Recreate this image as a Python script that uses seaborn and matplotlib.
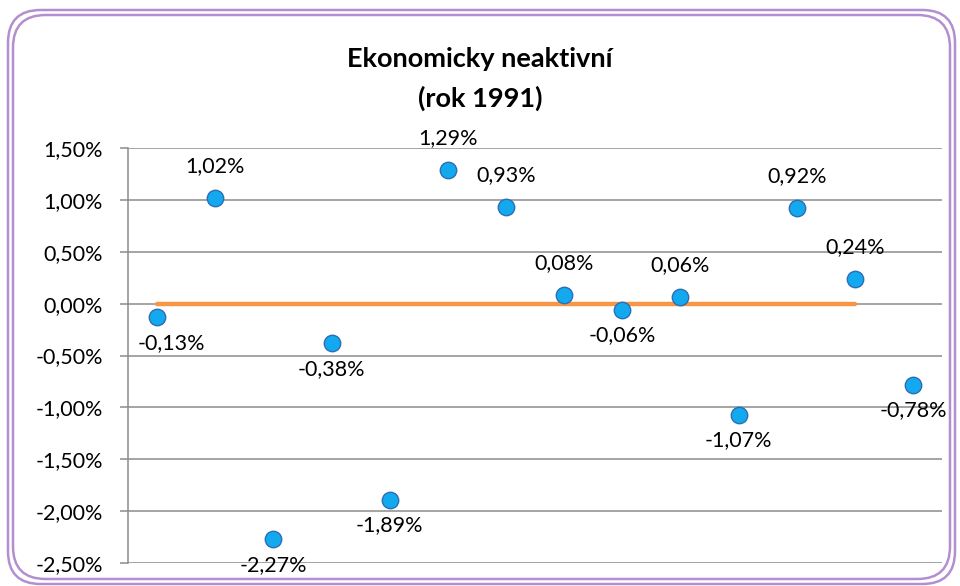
import matplotlib
matplotlib.use("Agg")
import matplotlib.pyplot as plt
import seaborn as sns
import pandas as pd
from matplotlib.patches import FancyBboxPatch
from matplotlib.ticker import FuncFormatter, MultipleLocator

categories = list(range(1, 15))
values = [-0.13, 1.02, -2.27, -0.38, -1.89, 1.29, 0.93, 0.08, -0.06, 0.06, -1.07, 0.92, 0.24, -0.78]
label_pos = ["below", "above", "below", "below", "below", "above", "above",
             "above", "below", "above", "below", "above", "above", "below"]
ref_x = [1, 13]
ref_y = [0.0, 0.0]
title = "Ekonomicky neaktivní\n(rok 1991)"

sns.set_theme(style="white")
plt.rcParams['font.family'] = ['Lato', 'DejaVu Sans']
plt.rcParams['text.color'] = 'black'
plt.rcParams['ytick.color'] = 'black'

fig = plt.figure(figsize=(9.6, 5.86), dpi=100)
W, H = 960, 586
ax = fig.add_axes([128 / W, 1 - 563 / H, (942 - 128) / W, (563 - 148) / H])

df = pd.DataFrame({"cat": categories, "val": values})
ref = pd.DataFrame({"x": ref_x, "y": ref_y})

ax.set_ylim(-2.5, 1.5)
ax.set_xlim(0.5, 14.5)
ax.yaxis.set_major_locator(MultipleLocator(0.5))
ax.grid(axis="y", color="#8c8c8c", linewidth=1.1)
ax.set_axisbelow(True)

sns.lineplot(data=ref, x="x", y="y", ax=ax, color="#F79646", linewidth=3.2, zorder=2)
sns.scatterplot(data=df, x="cat", y="val", ax=ax, s=140, color="#12A9EE",
                edgecolor="#2E6DB4", linewidth=1.0, zorder=3, clip_on=False)

FS = 15.5
for i, (c, v, p) in enumerate(zip(categories, values, label_pos)):
    txt = f"{v:.2f}%".replace(".", ",")
    dx = 10 if i == 0 else 0
    dy = 23 if p == "above" else -18.5
    ax.annotate(txt, (c, v), xytext=(dx, dy), textcoords="offset points",
                ha="center", va="center", fontsize=FS, color="black", annotation_clip=False)

ax.yaxis.set_major_formatter(FuncFormatter(lambda y, _: f"{y:.2f}%".replace(".", ",")))
ax.tick_params(axis="y", labelsize=FS, length=6, width=1.1, color="#8c8c8c",
               labelcolor="black", left=True, pad=12)
ax.set_xticks([])
ax.set_xlabel("")
ax.set_ylabel("")
for s in ["top", "right", "bottom"]:
    ax.spines[s].set_visible(False)
ax.spines["left"].set_color("#8c8c8c")
ax.spines["left"].set_linewidth(1.1)

fig.text(0.5, 1 - 79 / H, title, ha="center", va="center", fontsize=19.5,
         fontweight="bold", linespacing=1.65, color="black")

# double rounded border
for (x0, y0, x1, y1) in [(8, 10, 955, 584), (13, 15, 950, 579)]:
    fig.patches.append(FancyBboxPatch((x0 / W, 1 - y1 / H), (x1 - x0) / W, (y1 - y0) / H,
                                      boxstyle="round,pad=0,rounding_size=0.034",
                                      transform=fig.transFigure, fill=False,
                                      edgecolor="#B48FD0", linewidth=1.8, mutation_aspect=W / H))

fig.savefig("out.png", dpi=100)
